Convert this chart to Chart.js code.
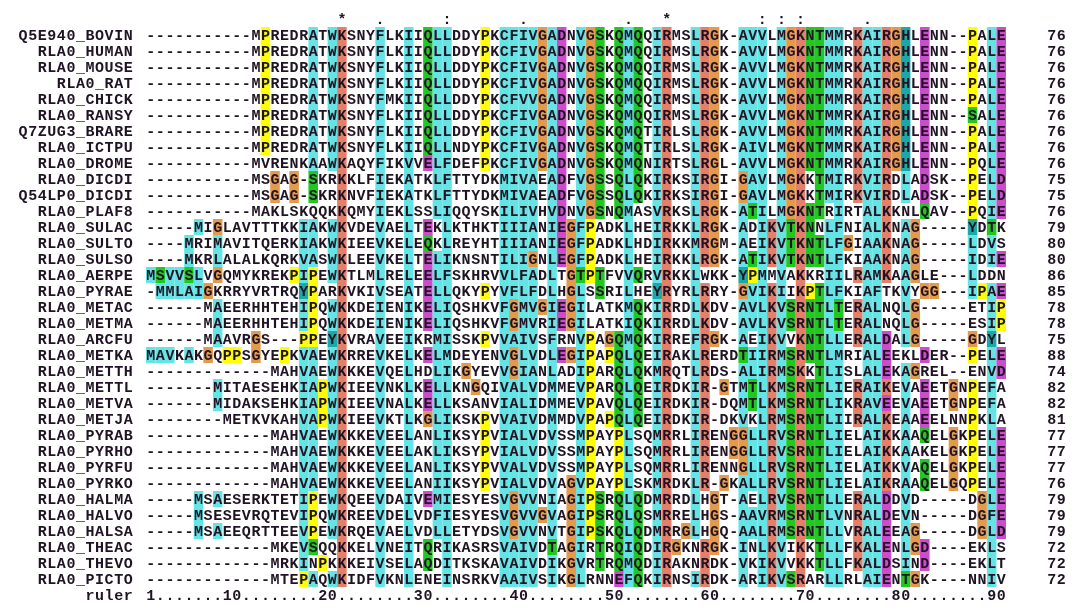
<!DOCTYPE html>
<html><head><meta charset="utf-8">
<script src="https://cdn.jsdelivr.net/npm/chart.js@4.4.1/dist/chart.umd.min.js"></script>
<style>html,body{margin:0;padding:0;background:#fff}#wrap{width:1080px;height:610px}</style>
</head><body><div id="wrap"><canvas id="c" width="1080" height="610"></canvas></div>
<script>
const names = ["Q5E940_BOVIN","RLA0_HUMAN","RLA0_MOUSE","RLA0_RAT","RLA0_CHICK","RLA0_RANSY","Q7ZUG3_BRARE","RLA0_ICTPU","RLA0_DROME","RLA0_DICDI","Q54LP0_DICDI","RLA0_PLAF8","RLA0_SULAC","RLA0_SULTO","RLA0_SULSO","RLA0_AERPE","RLA0_PYRAE","RLA0_METAC","RLA0_METMA","RLA0_ARCFU","RLA0_METKA","RLA0_METTH","RLA0_METTL","RLA0_METVA","RLA0_METJA","RLA0_PYRAB","RLA0_PYRHO","RLA0_PYRFU","RLA0_PYRKO","RLA0_HALMA","RLA0_HALVO","RLA0_HALSA","RLA0_THEAC","RLA0_THEVO","RLA0_PICTO"];
const sequences = [
"-----------MPREDRATWKSNYFLKIIQLLDDYPKCFIVGADNVGSKQMQQIRMSLRGK-AVVLMGKNTMMRKAIRGHLENN--PALE",
"-----------MPREDRATWKSNYFLKIIQLLDDYPKCFIVGADNVGSKQMQQIRMSLRGK-AVVLMGKNTMMRKAIRGHLENN--PALE",
"-----------MPREDRATWKSNYFLKIIQLLDDYPKCFIVGADNVGSKQMQQIRMSLRGK-AVVLMGKNTMMRKAIRGHLENN--PALE",
"-----------MPREDRATWKSNYFLKIIQLLDDYPKCFIVGADNVGSKQMQQIRMSLRGK-AVVLMGKNTMMRKAIRGHLENN--PALE",
"-----------MPREDRATWKSNYFMKIIQLLDDYPKCFVVGADNVGSKQMQQIRMSLRGK-AVVLMGKNTMMRKAIRGHLENN--PALE",
"-----------MPREDRATWKSNYFLKIIQLLDDYPKCFIVGADNVGSKQMQQIRMSLRGK-AVVLMGKNTMMRKAIRGHLENN--SALE",
"-----------MPREDRATWKSNYFLKIIQLLDDYPKCFIVGADNVGSKQMQTIRLSLRGK-AVVLMGKNTMMRKAIRGHLENN--PALE",
"-----------MPREDRATWKSNYFLKIIQLLNDYPKCFIVGADNVGSKQMQTIRLSLRGK-AIVLMGKNTMMRKAIRGHLENN--PALE",
"-----------MVRENKAAWKAQYFIKVVELFDEFPKCFIVGADNVGSKQMQNIRTSLRGL-AVVLMGKNTMMRKAIRGHLENN--PQLE",
"-----------MSGAG-SKRKKLFIEKATKLFTTYDKMIVAEADFVGSSQLQKIRKSIRGI-GAVLMGKKTMIRKVIRDLADSK--PELD",
"-----------MSGAG-SKRKNVFIEKATKLFTTYDKMIVAEADFVGSSQLQKIRKSIRGI-GAVLMGKKTMIRKVIRDLADSK--PELD",
"-----------MAKLSKQQKKQMYIEKLSSLIQQYSKILIVHVDNVGSNQMASVRKSLRGK-ATILMGKNTRIRTALKKNLQAV--PQIE",
"-----MIGLAVTTTKKIAKWKVDEVAELTEKLKTHKTIIIANIEGFPADKLHEIRKKLRGK-ADIKVTKNNLFNIALKNAG-----YDTK",
"----MRIMAVITQERKIAKWKIEEVKELEQKLREYHTIIIANIEGFPADKLHDIRKKMRGM-AEIKVTKNTLFGIAAKNAG-----LDVS",
"----MKRLALALKQRKVASWKLEEVKELTELIKNSNTILIGNLEGFPADKLHEIRKKLRGK-ATIKVTKNTLFKIAAKNAG-----IDIE",
"MSVVSLVGQMYKREKPIPEWKTLMLRELEELFSKHRVVLFADLTGTPTFVVQRVRKKLWKK-YPMMVAKKRIILRAMKAAGLE---LDDN",
"-MMLAIGKRRYVRTRQYPARKVKIVSEATELLQKYPYVFLFDLHGLSSRILHEYRYRLRRY-GVIKIIKPTLFKIAFTKVYGG---IPAE",
"------MAEERHHTEHIPQWKKDEIENIKELIQSHKVFGMVGIEGILATKMQKIRRDLKDV-AVLKVSRNTLTERALNQLG-----ETIP",
"------MAEERHHTEHIPQWKKDEIENIKELIQSHKVFGMVRIEGILATKIQKIRRDLKDV-AVLKVSRNTLTERALNQLG-----ESIP",
"------MAAVRGS---PPEYKVRAVEEIKRMISSKPVVAIVSFRNVPAGQMQKIRREFRGK-AEIKVVKNTLLERALDALG-----GDYL",
"MAVKAKGQPPSGYEPKVAEWKRREVKELKELMDEYENVGLVDLEGIPAPQLQEIRAKLRERDTIIRMSRNTLMRIALEEKLDER--PELE",
"-------------MAHVAEWKKKEVQELHDLIKGYEVVGIANLADIPARQLQKMRQTLRDS-ALIRMSKKTLISLALEKAGREL--ENVD",
"-------MITAESEHKIAPWKIEEVNKLKELLKNGQIVALVDMMEVPARQLQEIRDKIR-GTMTLKMSRNTLIERAIKEVAEETGNPEFA",
"-------MIDAKSEHKIAPWKIEEVNALKELLKSANVIALIDMMEVPAVQLQEIRDKIR-DQMTLKMSRNTLIKRAVEEVAEETGNPEFA",
"--------METKVKAHVAPWKIEEVKTLKGLIKSKPVVAIVDMMDVPAPQLQEIRDKIR-DKVKLRMSRNTLIIRALKEAAEELNNPKLA",
"-------------MAHVAEWKKKEVEELANLIKSYPVIALVDVSSMPAYPLSQMRRLIRENGGLLRVSRNTLIELAIKKAAQELGKPELE",
"-------------MAHVAEWKKKEVEELAKLIKSYPVIALVDVSSMPAYPLSQMRRLIRENGGLLRVSRNTLIELAIKKAAKELGKPELE",
"-------------MAHVAEWKKKEVEELANLIKSYPVVALVDVSSMPAYPLSQMRRLIRENNGLLRVSRNTLIELAIKKVAQELGKPELE",
"-------------MAHVAEWKKKEVEELANIIKSYPVIALVDVAGVPAYPLSKMRDKLR-GKALLRVSRNTLIELAIKRAAQELGQPELE",
"-----MSAESERKTETIPEWKQEEVDAIVEMIESYESVGVVNIAGIPSRQLQDMRRDLHGT-AELRVSRNTLLERALDDVD-----DGLE",
"-----MSESEVRQTEVIPQWKREEVDELVDFIESYESVGVVGVAGIPSRQLQSMRRELHGS-AAVRMSRNTLVNRALDEVN-----DGFE",
"-----MSAEEQRTTEEVPEWKRQEVAELVDLLETYDSVGVVNVTGIPSKQLQDMRRGLHGQ-AALRMSRNTLLVRALEEAG-----DGLD",
"-------------MKEVSQQKKELVNEITQRIKASRSVAIVDTAGIRTRQIQDIRGKNRGK-INLKVIKKTLLFKALENLGD----EKLS",
"-------------MRKINPKKKEIVSELAQDITKSKAVAIVDIKGVRTRQMQDIRAKNRDK-VKIKVVKKTLLFKALDSIND----EKLT",
"-------------MTEPAQWKIDFVKNLENEINSRKVAAIVSIKGLRNNEFQKIRNSIRDK-ARIKVSRARLLRLAIENTGK----NNIV"
];
const conservation = "                    *   .      :       .          .   *         : : :      .              ";
const rulerLabel = "ruler";
const NCOL = 90;

const COL = {cyan:'#64e4e4', red:'#e4806a', mag:'#cc4ccc', green:'#22c822', pink:'#f08080', orange:'#e49a4c', yellow:'#ffff00', dcyan:'#1aa8a8'};

function colStats(c){
  const res = sequences.map(s=>s[c]).filter(ch=>ch!=='-');
  const n = res.length;
  return set => 100*res.filter(ch=>set.includes(ch)).length/n;
}
function colour(ch, p){
  const hyd = p('WLVIMAFCHP');
  switch(ch){
    case 'A':case 'I':case 'L':case 'M':case 'F':case 'W':case 'V': return hyd>60?COL.cyan:null;
    case 'C': if(p('C')>85) return COL.pink; return hyd>60?COL.cyan:null;
    case 'K':case 'R': return (p('KR')>60||p('K')>80||p('R')>80||p('Q')>80)?COL.red:null;
    case 'E': return (p('KR')>60||p('QE')>50||p('ED')>50)?COL.mag:null;
    case 'D': return (p('KR')>60||p('KRQ')>85||p('ED')>50)?COL.mag:null;
    case 'N': return (p('N')>50||p('Y')>85)?COL.green:null;
    case 'Q': return (p('KR')>60||p('QE')>50)?COL.green:null;
    case 'S':case 'T': return (hyd>60||p('ST')>50||p('S')>80||p('T')>80)?COL.green:null;
    case 'G': return COL.orange;
    case 'P': return COL.yellow;
    case 'H':case 'Y': return (hyd>60||['W','Y','A','C','P','Q','F','H'].some(x=>p(x)>85))?COL.dcyan:null;
  }
  return null;
}

const points = [];
sequences.forEach((s,r)=>{ for(let c=0;c<NCOL;c++) points.push({x:c+1,y:r,ch:s[c]}); });

const FONT = 'bold 15px "Liberation Mono", "DejaVu Sans Mono", monospace';
const TXT = '#201424';
const msa = {
  id:'msa',
  afterDatasetsDraw(chart){
    const ctx = chart.ctx, xs = chart.scales.x, ys = chart.scales.y;
    const stats = []; for(let c=0;c<NCOL;c++) stats.push(colStats(c));
    ctx.save();
    // backgrounds
    points.forEach(pt=>{
      if(pt.ch==='-') return;
      const col = colour(pt.ch, stats[pt.x-1]);
      if(!col) return;
      const x0 = xs.getPixelForValue(pt.x-0.5), x1 = xs.getPixelForValue(pt.x+0.5);
      const y0 = ys.getPixelForValue(pt.y-0.5), y1 = ys.getPixelForValue(pt.y+0.5);
      ctx.fillStyle = col; ctx.fillRect(x0,y0,x1-x0,y1-y0);
    });
    ctx.font = FONT; ctx.fillStyle = TXT; ctx.textAlign='center'; ctx.textBaseline='middle';
    points.forEach(pt=>{
      ctx.fillText(pt.ch, xs.getPixelForValue(pt.x), ys.getPixelForValue(pt.y)+1);
    });
    const cw = xs.getPixelForValue(2)-xs.getPixelForValue(1);
    const nameEnd = xs.getPixelForValue(0.5) - 13;
    const drawRight = (str, endX, y)=>{
      for(let i=0;i<str.length;i++){
        ctx.fillText(str[i], endX - (str.length-i-0.5)*cw, y);
      }
    };
    names.forEach((n,r)=>{
      const y = ys.getPixelForValue(r)+1;
      drawRight(n, nameEnd, y);
      const cnt = sequences[r].replace(/-/g,'').length;
      drawRight(String(cnt), 1066, y);
    });
    // conservation
    for(let c=0;c<NCOL;c++){
      if(conservation[c]!==' ') ctx.fillText(conservation[c], xs.getPixelForValue(c+1), ys.getPixelForValue(-1)+1);
    }
    // ruler
    const ry = ys.getPixelForValue(names.length)+1;
    drawRight(rulerLabel, nameEnd, ry);
    const ruler = [];
    for(let c=1;c<=NCOL;c++) ruler.push(c===1?'1':'.');
    for(let c=10;c<=NCOL;c+=10){ const d=String(c); for(let k=0;k<d.length;k++) ruler[c-d.length+k]=d[k]; }
    ruler.forEach((ch,i)=>ctx.fillText(ch, xs.getPixelForValue(i+1), ry));
    ctx.restore();
  }
};

new Chart(document.getElementById('c'), {
  type:'scatter',
  data:{datasets:[{data:points, pointRadius:0, pointHoverRadius:0}]},
  options:{
    responsive:false, animation:false, devicePixelRatio:1,
    layout:{padding:{left:146, right:74, top:11, bottom:7}},
    plugins:{legend:{display:false}, tooltip:{enabled:false}},
    scales:{
      x:{type:'linear', min:0.5, max:NCOL+0.5, display:false},
      y:{type:'linear', min:-1.5, max:names.length+0.5, reverse:true, display:false}
    }
  },
  plugins:[msa]
});
</script></body></html>
